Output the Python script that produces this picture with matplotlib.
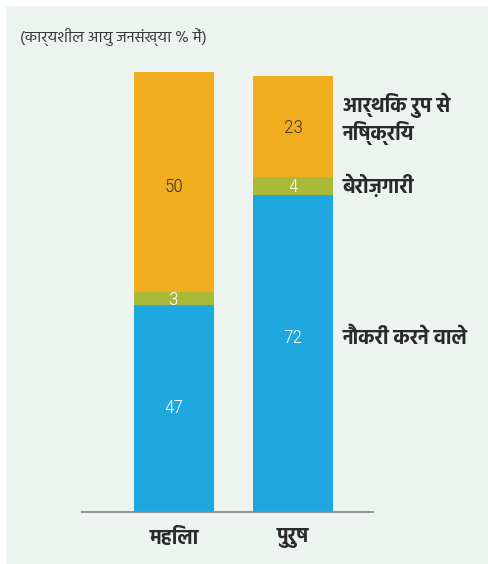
import matplotlib
matplotlib.use("Agg")
import matplotlib.pyplot as plt
from matplotlib.patches import Rectangle

# Working-age population by activity status, per cent
categories = ["महिला", "पुरुष"]
employed = [47, 72]
unemployed = [3, 4]
inactive = [50, 23]
series_names = ["नौकरी करने वाले", "बेरोज़गारी", "आर्थिक रुप से\nनिष्क्रिय"]
subtitle = "(कार्यशील आयु जनसंख्या % में)"

BG = "#edf3ef"
BLUE = "#1fa8df"
GREEN = "#a9ba3b"
ORANGE = "#f0ae1e"
DARK = "#2a2a2a"
DEV = ["Hind", "Noto Sans Devanagari", "DejaVu Sans"]
NUM = ["Roboto Condensed", "DejaVu Sans"]

W, H = 488, 564
fig = plt.figure(figsize=(W / 100, H / 100), dpi=100)
fig.patch.set_facecolor("white")
fig.add_artist(Rectangle((6 / W, 0), 1 - 6 / W, 1 - 6 / H, transform=fig.transFigure,
                         facecolor=BG, edgecolor="none", zorder=0))

ax = fig.add_axes([82 / W, 52.3 / H, 291 / W, 440 / H])
ax.set_facecolor("none")
ax.set_xlim(-0.773, 1.672)
ax.set_ylim(0, 100)
ax.axis("off")

x = [0, 1]
width = 0.672
bottom_green = employed
bottom_orange = [e + u for e, u in zip(employed, unemployed)]
ax.bar(x, employed, width, color=BLUE, zorder=2)
ax.bar(x, unemployed, width, bottom=bottom_green, color=GREEN, zorder=2)
ax.bar(x, inactive, width, bottom=bottom_orange, color=ORANGE, zorder=2)
ax.axhline(0, color="#8a8a8a", lw=1.3, zorder=3, clip_on=False)

# value labels inside segments
num_kw = dict(ha="center", va="center", fontsize=14, family=NUM, fontweight="light", zorder=4)
for i in range(2):
    yb = employed[i] / 2 if i == 0 else 39.5
    ax.text(x[i], yb, str(employed[i]), color="white", **num_kw)
    ax.text(x[i], employed[i] + unemployed[i] / 2 - 0.3, str(unemployed[i]), color="white", **num_kw)
    ax.text(x[i], bottom_orange[i] + inactive[i] / 2 - (1.2 if i == 0 else 0.2), str(inactive[i]),
            color="#3b3526", **num_kw)

# series names to the right of the second bar
lab_kw = dict(ha="left", va="center", color=DARK, fontsize=14.5, family=DEV,
              fontweight="bold", clip_on=False)
lx = 1.42
ax.text(lx, 39.5, series_names[0], **lab_kw)
ax.text(lx, 74.2, series_names[1], **lab_kw)
ax.text(lx, 89.3, series_names[2], linespacing=1.2, **lab_kw)

# category labels under the baseline
for i, c in enumerate(categories):
    ax.text(x[i], -6, c, ha="center", va="center", color=DARK, fontsize=14.5,
            family=DEV, fontweight="bold", clip_on=False)

fig.text(20 / W, 1 - 37 / H, subtitle, ha="left", va="center", color="#3a3a3a",
         fontsize=11.5, family=DEV)

fig.savefig("out.png", dpi=100, facecolor=fig.get_facecolor())
